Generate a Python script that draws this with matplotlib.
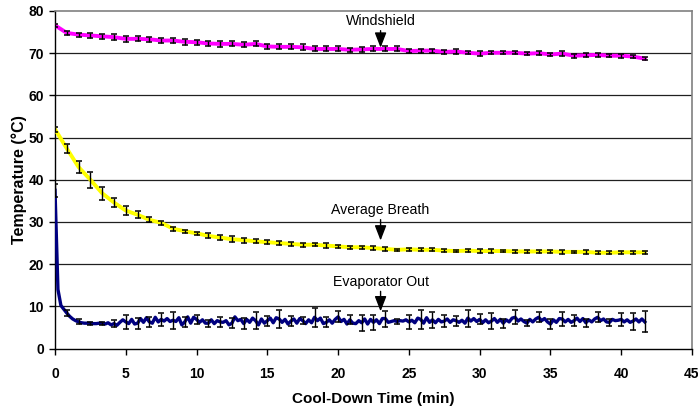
import numpy as np
import matplotlib
matplotlib.use("Agg")
import matplotlib.pyplot as plt

plt.rcParams['font.family'] = ['Liberation Sans', 'DejaVu Sans']

# ---- data ----
bar_step_min = 50 / 60.0          # error bars every 50 s
evap_step_min = bar_step_min / 4  # evaporator line sampled 4x between bars

windshield = [76.6, 74.8, 74.4, 74.2, 74.0, 73.8, 73.4, 73.4, 73.3, 73.0,
              73.0, 72.7, 72.6, 72.3, 72.2, 72.2, 72.0, 72.2, 71.6, 71.5,
              71.5, 71.4, 71.0, 71.0, 71.0, 70.8, 70.9, 71.0, 71.0, 71.0,
              70.5, 70.6, 70.6, 70.3, 70.4, 70.1, 69.9, 70.1, 70.1, 70.1,
              69.9, 70.0, 69.7, 69.9, 69.4, 69.5, 69.6, 69.4, 69.4, 69.2,
              68.7]
windshield_err = [0.4, 0.5, 0.5, 0.6, 0.6, 0.7, 0.7, 0.6, 0.6, 0.6,
                  0.6, 0.7, 0.6, 0.6, 0.7, 0.6, 0.6, 0.6, 0.5, 0.6,
                  0.6, 0.7, 0.6, 0.6, 0.6, 0.5, 0.6, 0.6, 0.6, 0.6,
                  0.4, 0.5, 0.5, 0.4, 0.5, 0.4, 0.5, 0.4, 0.4, 0.4,
                  0.4, 0.4, 0.3, 0.5, 0.5, 0.5, 0.5, 0.4, 0.5, 0.4,
                  0.3]

breath = [52.0, 47.4, 43.0, 40.0, 36.8, 34.6, 32.7, 31.7, 30.5, 29.8,
          28.4, 27.8, 27.3, 26.7, 26.3, 25.9, 25.7, 25.4, 25.2, 25.0,
          24.8, 24.6, 24.6, 24.4, 24.2, 24.0, 24.0, 23.8, 23.6, 23.4,
          23.5, 23.4, 23.4, 23.2, 23.1, 23.2, 23.1, 23.1, 23.1, 23.0,
          23.0, 23.0, 23.0, 22.9, 22.9, 22.9, 22.7, 22.7, 22.8, 22.8,
          22.8]
breath_err = [0.6, 1.0, 1.4, 1.9, 1.5, 1.0, 1.0, 0.8, 0.6, 0.5,
              0.5, 0.4, 0.3, 0.6, 0.5, 0.7, 0.6, 0.5, 0.5, 0.4,
              0.5, 0.5, 0.4, 0.5, 0.4, 0.4, 0.4, 0.4, 0.4, 0.3,
              0.4, 0.4, 0.4, 0.4, 0.3, 0.4, 0.4, 0.4, 0.3, 0.4,
              0.3, 0.3, 0.3, 0.4, 0.3, 0.4, 0.4, 0.3, 0.3, 0.3,
              0.3]

evaporator = [37.5, 14.0, 10.2, 9.3,
              8.4, 7.6, 7.0, 6.6,
              6.3, 6.1, 6.0, 6.0,
              6.0, 5.9, 5.9, 6.0,
              6.0, 5.8, 6.1, 5.6,
              5.9, 5.5, 6.2, 6.8,
              6.3, 5.9, 6.9, 5.8,
              6.0, 7.1, 6.2, 7.3,
              6.3, 6.0, 7.4, 6.3,
              6.9, 6.5, 7.1, 6.4,
              6.7, 6.4, 7.3, 5.6,
              6.3, 7.5, 6.0, 7.4,
              6.9, 6.2, 6.8, 6.0,
              6.0, 6.8, 5.9, 6.6,
              6.3, 6.2, 6.6, 5.6,
              6.0, 7.5, 6.6, 6.9,
              5.9, 6.9, 6.2, 7.2,
              6.6, 5.6, 7.0, 6.0,
              6.6, 7.2, 6.1, 7.3,
              7.0, 6.2, 6.9, 5.8,
              6.5, 7.0, 6.0, 7.1,
              6.6, 5.9, 6.8, 6.1,
              7.4, 6.6, 7.2, 5.9,
              6.2, 6.8, 6.0, 6.9,
              7.5, 6.4, 6.9, 5.8,
              6.8, 6.0, 5.9, 6.6,
              6.1, 7.0, 5.8, 6.9,
              6.2, 6.8, 5.9, 7.1,
              7.1, 6.2, 6.4, 6.6,
              6.4, 6.6, 6.5, 6.8,
              6.3, 6.7, 6.1, 7.2,
              6.9, 6.0, 7.3, 6.2,
              6.8, 6.1, 6.9, 6.3,
              6.5, 7.0, 6.2, 6.8,
              6.6, 6.2, 6.7, 6.0,
              7.2, 6.5, 7.1, 6.4,
              6.9, 6.1, 6.8, 6.1,
              6.5, 7.1, 6.2, 6.9,
              6.0, 6.8, 6.3, 7.2,
              7.4, 6.5, 7.0, 6.4,
              6.0, 6.9, 6.3, 7.0,
              7.4, 6.6, 7.1, 6.3,
              5.8, 6.8, 6.2, 7.1,
              7.0, 6.3, 6.9, 6.2,
              6.6, 7.2, 6.4, 7.1,
              6.1, 6.8, 6.3, 7.0,
              7.4, 6.6, 7.0, 6.3,
              6.2, 6.9, 6.6, 6.7,
              6.9, 6.3, 6.8, 6.2,
              6.5, 7.0, 6.3, 7.0,
              6.3]
evaporator_err = [1.5, 0.75, 0.6, 0.4, 0.4, 0.8, 1.6, 1.3, 1.2, 1.5,
                  2.0, 1.1, 1.0, 0.8, 1.2, 1.2, 1.3, 2.0, 1.2, 2.2,
                  1.1, 0.8, 2.2, 1.2, 1.3, 1.1, 1.9, 1.8, 1.9, 0.7,
                  1.7, 2.3, 1.9, 1.4, 1.2, 2.0, 1.2, 1.8, 1.1, 1.7,
                  0.7, 1.2, 1.1, 1.6, 1.3, 1.0, 1.2, 0.9, 1.6, 2.0,
                  2.5]

x_ticks = [0, 5, 10, 15, 20, 25, 30, 35, 40, 45]
y_ticks = [0, 10, 20, 30, 40, 50, 60, 70, 80]

labels = ["Windshield", "Average Breath", "Evaporator Out"]
label_pos = [(23.0, 76.0), (23.0, 31.2), (23.0, 14.2)]   # text bottom (min, degC)
arrow_tip = [(23.0, 71.3), (23.0, 25.6), (23.0, 8.8)]

# ---- figure ----
fig = plt.figure(figsize=(6.98, 4.11), dpi=100)
ax = fig.add_axes([55/698, 1 - 348.5/411, 637/698, 337.5/411])

t_bar = np.arange(len(windshield)) * bar_step_min
t_evap = np.arange(len(evaporator)) * evap_step_min
evap_arr = np.array(evaporator)

ax.plot(t_bar, windshield, color='#FF00FF', lw=2.8, zorder=3, solid_joinstyle='round')
ax.plot(t_bar, breath, color='#FFFF00', lw=2.8, zorder=3, solid_joinstyle='round')
ax.plot(t_evap, evaporator, color='#000080', lw=2.4, zorder=3, solid_joinstyle='round')

eb_kw = dict(fmt='none', ecolor='black', elinewidth=1.0, capsize=2.3, capthick=1.1, zorder=4)
ax.errorbar(t_bar, windshield, yerr=windshield_err, **eb_kw)
ax.errorbar(t_bar, breath, yerr=breath_err, **eb_kw)
ax.errorbar(t_evap[::4], evap_arr[::4], yerr=evaporator_err, **eb_kw)

ax.set_xlim(0, 45)
ax.set_ylim(0, 80)
ax.set_xticks(x_ticks)
ax.set_yticks(y_ticks)
for v in y_ticks[1:-1]:
    ax.axhline(v, color='#202020', lw=0.9, zorder=1)

for s in ['top', 'right']:
    ax.spines[s].set_color('#808080')
    ax.spines[s].set_linewidth(1.2)
for s in ['left', 'bottom']:
    ax.spines[s].set_color('black')
    ax.spines[s].set_linewidth(1.0)

ax.tick_params(axis='both', direction='out', length=4, width=1, color='black',
               labelsize=10)
ax.tick_params(axis='x', pad=9)
ax.tick_params(axis='y', pad=4)
for lab in ax.get_xticklabels() + ax.get_yticklabels():
    lab.set_fontweight('bold')

ax.set_xlabel('Cool-Down Time (min)', fontsize=11, fontweight='bold', labelpad=8)
ax.set_ylabel('Temperature (\u00b0C)', fontsize=11.5, fontweight='bold', labelpad=1)

for lab, (tx, ty), (ax_, ay) in zip(labels, label_pos, arrow_tip):
    ax.annotate(lab, xy=(ax_, ay), xytext=(tx, ty), ha='center', va='bottom',
                fontsize=10.2, zorder=6,
                arrowprops=dict(arrowstyle='-|>,head_length=0.9,head_width=0.35',
                                color='black', lw=1.0, shrinkA=0, shrinkB=0))

fig.savefig('out.png', dpi=100)
